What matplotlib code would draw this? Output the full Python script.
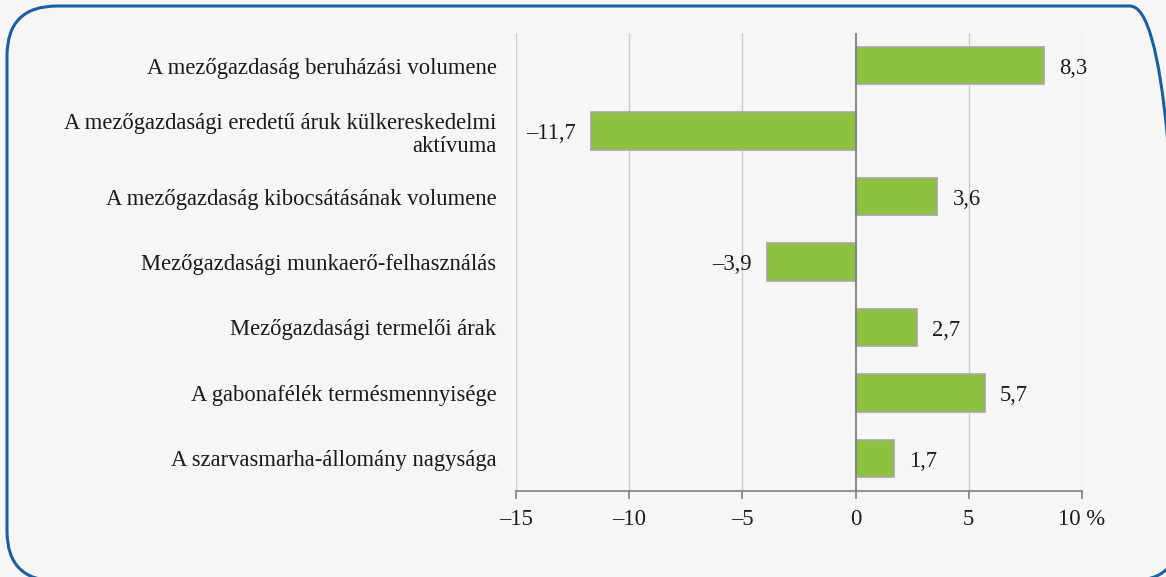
import matplotlib
matplotlib.use("Agg")
import matplotlib.pyplot as plt
from matplotlib.patches import FancyBboxPatch
from matplotlib.transforms import IdentityTransform

categories = [
    "A mezőgazdaság beruházási volumene",
    "A mezőgazdasági eredetű áruk külkereskedelmi\naktívuma",
    "A mezőgazdaság kibocsátásának volumene",
    "Mezőgazdasági munkaerő-felhasználás",
    "Mezőgazdasági termelői árak",
    "A gabonafélék termésmennyisége",
    "A szarvasmarha-állomány nagysága",
]
values = [8.3, -11.7, 3.6, -3.9, 2.7, 5.7, 1.7]
xticks = [-15, -10, -5, 0, 5, 10]
xticklabels = ["–15", "–10", "–5", "0", "5", "10 %"]

bg = "#f7f6f4"
plt.rcParams["font.family"] = ["Liberation Serif", "DejaVu Serif"]
FS = 16.3

W, H = 1166, 577
fig = plt.figure(figsize=(W / 100, H / 100), dpi=100, facecolor=bg)

# rounded border (pixel coordinates, origin bottom-left)
box = FancyBboxPatch((7, H - 581), 1180 - 7, 581 - 6,
                     boxstyle="round,pad=0,rounding_size=50",
                     transform=IdentityTransform(), facecolor="none",
                     edgecolor="#1a5fa0", linewidth=2.2, clip_on=False)
fig.patches.append(box)

ax = fig.add_axes([516 / W, 1 - 491 / H, (1082 - 516) / W, (491 - 33) / H])
ax.set_facecolor(bg)

y = list(range(len(categories)))
ax.barh(y, values, height=0.57, color="#8dc13f", edgecolor="#a6a6a6",
        linewidth=1.2, zorder=3)

ax.set_xlim(-15, 10)
ax.set_ylim(len(categories) - 0.5, -0.5)
ax.set_xticks(xticks)
ax.set_xticklabels(xticklabels, fontsize=FS, color="#1a1a1a")
ax.set_yticks(y)
ax.set_yticklabels(categories, fontsize=FS, color="#1a1a1a")
for t in ax.get_yticklabels():
    t.set_multialignment("right")
    t.set_linespacing(1.12)
ax.tick_params(axis="y", length=0, pad=14)
ax.tick_params(axis="x", length=6, width=1.2, color="#7f7f7f", pad=7)

for s in ["top", "right", "left"]:
    ax.spines[s].set_visible(False)
ax.spines["bottom"].set_color("#7f7f7f")
ax.spines["bottom"].set_linewidth(1.2)

for t in xticks:
    if t == 0:
        ax.axvline(0, color="#7f7f7f", linewidth=1.3, zorder=4)
    else:
        ax.axvline(t, color="#cccccc", linewidth=1.0, zorder=1)

for yi, v in zip(y, values):
    lab = f"{abs(v):.1f}".replace(".", ",")
    if v < 0:
        lab = "–" + lab
        ax.annotate(lab, (v, yi), xytext=(-11, -2), textcoords="offset points",
                    ha="right", va="center", fontsize=FS, color="#1a1a1a")
    else:
        ax.annotate(lab, (v, yi), xytext=(11, -2), textcoords="offset points",
                    ha="left", va="center", fontsize=FS, color="#1a1a1a")

fig.savefig("out.png", dpi=100, facecolor=bg)
